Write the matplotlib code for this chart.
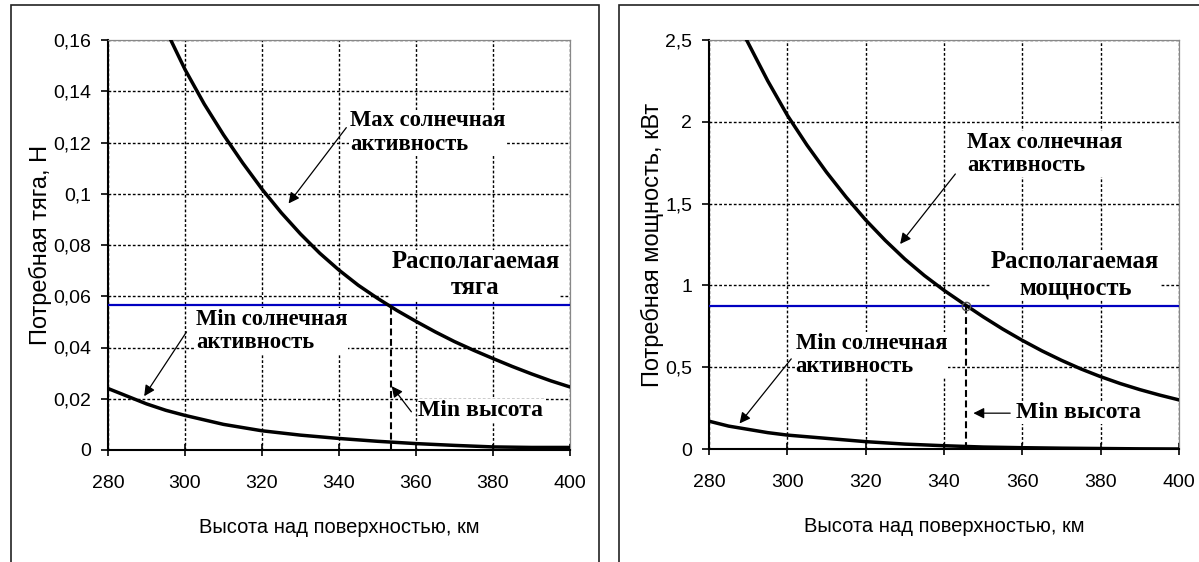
import matplotlib

matplotlib.use("Agg")
import matplotlib.pyplot as plt
from matplotlib.patches import Rectangle
from matplotlib.ticker import FuncFormatter, MultipleLocator

plt.rcParams["font.family"] = ["Liberation Sans", "DejaVu Sans"]

# --- data ---
alt_ticks = [280, 300, 320, 340, 360, 380, 400]

# left panel: required thrust, N
thrust_max_x = [296.3, 300, 305, 310, 315, 320, 325, 330, 335, 340, 345, 350, 355,
                360, 365, 370, 375, 380, 385, 390, 395, 400]
thrust_max_y = [0.160, 0.1485, 0.1350, 0.1230, 0.1120, 0.1018, 0.0926, 0.0843, 0.0768,
                0.0702, 0.0643, 0.0592, 0.0545, 0.0502, 0.0461, 0.0423, 0.0389, 0.0357,
                0.0326, 0.0297, 0.0270, 0.0246]
thrust_min_x = [280, 285, 290, 295, 300, 310, 320, 330, 340, 350, 360, 370, 380, 390, 400]
thrust_min_y = [0.024, 0.021, 0.018, 0.0155, 0.0135, 0.010, 0.0075, 0.0058, 0.0045,
                0.0034, 0.0025, 0.0018, 0.0012, 0.001, 0.001]
thrust_avail = 0.0565
thrust_min_alt = 353.4

# right panel: required power, kW
power_max_x = [289.6, 295, 300, 305, 310, 315, 320, 325, 330, 335, 340, 345, 350, 355,
               360, 365, 370, 375, 380, 385, 390, 395, 400]
power_max_y = [2.50, 2.25, 2.04, 1.858, 1.692, 1.54, 1.40, 1.275, 1.161, 1.060, 0.970,
               0.888, 0.808, 0.733, 0.664, 0.600, 0.542, 0.489, 0.442, 0.400, 0.363,
               0.330, 0.300]
power_min_x = [280, 285, 290, 295, 300, 310, 320, 330, 340, 350, 360, 370, 380, 390, 400]
power_min_y = [0.17, 0.14, 0.12, 0.10, 0.085, 0.065, 0.045, 0.03, 0.02, 0.012, 0.008,
               0.005, 0.003, 0.001, 0.0]
power_avail = 0.874
power_min_alt = 345.7

BLUE = "#0000c0"
SERIF = dict(family=["Liberation Serif", "DejaVu Serif"], weight="bold")


def comma(v, _pos):
    return ("%g" % round(v, 4)).replace(".", ",")


def style_axes(ax, ymax, ystep, ylabel):
    ax.set_xlim(280, 400)
    ax.set_ylim(0, ymax)
    ax.set_xticks(alt_ticks)
    ax.yaxis.set_major_locator(MultipleLocator(ystep))
    ax.yaxis.set_major_formatter(FuncFormatter(comma))
    ax.grid(True, color="black", ls=(0, (2, 1.5)), lw=1.0)
    ax.set_axisbelow(True)
    for s in ("top", "right"):
        ax.spines[s].set_color("#888888")
        ax.spines[s].set_linewidth(0.9)
    for s in ("left", "bottom"):
        ax.spines[s].set_linewidth(1.5)
    ax.tick_params(axis="y", labelsize=14, length=5, width=1.2, direction="out", pad=7)
    ax.tick_params(axis="x", labelsize=14, length=8, width=1.2, direction="inout", pad=14)
    ax.set_xlabel("Высота над поверхностью, км", fontsize=14.5, labelpad=19)
    ax.set_ylabel(ylabel, fontsize=17, labelpad=1)


def label(ax, text, xy, ha="left", size=16.3):
    ax.text(*xy, text, ha=ha, va="top", linespacing=1.15, zorder=6, fontsize=size,
            bbox=dict(facecolor="white", edgecolor="none", pad=0.5), **SERIF)


def arrow(ax, tail, tip):
    ax.annotate("", xy=tip, xytext=tail, zorder=7,
                arrowprops=dict(arrowstyle="-|>", color="black", lw=0.9,
                                mutation_scale=16, shrinkA=0, shrinkB=0))


fig = plt.figure(figsize=(11.99, 5.62), dpi=100)

# panel frames
for x0, x1 in ((11, 599), (619, 1205)):
    fig.add_artist(Rectangle((x0 / 1199, -0.02), (x1 - x0) / 1199, 1.02 - 5 / 562,
                             transform=fig.transFigure, fill=False, ec="#222222", lw=1.2))

ax1 = fig.add_axes([108 / 1199, 1 - 450 / 562, 462 / 1199, 410 / 562])
ax2 = fig.add_axes([709 / 1199, 1 - 449 / 562, 470 / 1199, 409 / 562])

# left panel
style_axes(ax1, 0.16, 0.02, "Потребная тяга, Н")
ax1.plot(thrust_max_x, thrust_max_y, color="black", lw=2.5, zorder=4)
ax1.plot(thrust_min_x, thrust_min_y, color="black", lw=2.5, zorder=4)
ax1.axhline(thrust_avail, color=BLUE, lw=1.6, zorder=3)
ax1.plot([thrust_min_alt, thrust_min_alt], [0, thrust_avail], color="black", lw=1.5,
         ls=(0, (3.3, 1.7)), zorder=3)
label(ax1, "Max солнечная\nактивность", (342.8, 0.1325))
arrow(ax1, (341.9, 0.1258), (326.9, 0.0962))
label(ax1, "Min солнечная\nактивность", (302.9, 0.0551))
arrow(ax1, (300.4, 0.0461), (289.4, 0.021))
label(ax1, "Min высота", (360.6, 0.0195), size=17)
arrow(ax1, (358.8, 0.0149), (353.7, 0.0249))
label(ax1, "Располагаемая\nтяга", (375.4, 0.0779), ha="center", size=17.8)

# right panel
style_axes(ax2, 2.5, 0.5, "Потребная мощность, кВт")
ax2.plot(power_max_x, power_max_y, color="black", lw=2.5, zorder=4)
ax2.plot(power_min_x, power_min_y, color="black", lw=2.5, zorder=4)
ax2.axhline(power_avail, color=BLUE, lw=1.6, zorder=3)
ax2.plot([power_min_alt, power_min_alt], [0, power_avail], color="black", lw=1.5,
         ls=(0, (3.3, 1.7)), zorder=3)
ax2.plot([power_min_alt], [power_avail], "o", mfc="none", mec="#555555", ms=6, zorder=5)
label(ax2, "Max солнечная\nактивность", (346.0, 1.94))
arrow(ax2, (342.9, 1.681), (328.8, 1.253))
label(ax2, "Min солнечная\nактивность", (302.1, 0.712))
arrow(ax2, (301.0, 0.551), (287.8, 0.156))
label(ax2, "Min высота", (358.4, 0.286), size=17)
arrow(ax2, (356.9, 0.219), (347.5, 0.219))
label(ax2, "Располагаемая\nмощность", (373.5, 1.214), ha="center", size=17.8)

fig.savefig("out.png", dpi=100)
